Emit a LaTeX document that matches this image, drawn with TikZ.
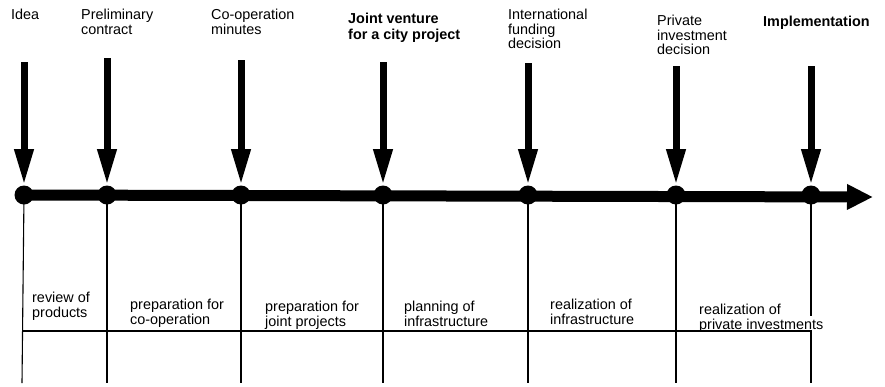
\documentclass[tikz,border=0pt]{standalone}
\usepackage{fontspec}
\setmainfont{Liberation Sans}
\usetikzlibrary{arrows.meta}
\tikzset{
  dot/.style={circle, fill=black, inner sep=0pt, minimum size=19pt},
  drop/.style={line width=7pt, -{Triangle[width=18pt,length=36pt]}, shorten >=10pt},
  axisline/.style={line width=11pt, -{Triangle[width=24pt,length=26pt]}},
  thinline/.style={line width=1.1pt},
  lbl/.style={anchor=north west, inner sep=0pt, align=left, font=\fontsize{14.4}{14.5}\selectfont},
  blbl/.style={lbl, font=\fontsize{14.4}{15.5}\selectfont\bfseries},
}
\begin{document}
\begin{tikzpicture}[x=1pt,y=-1pt]
\useasboundingbox (0,0) rectangle (885,386);
% dots
\node[dot] (d1) at (24,195) {};
\node[dot] (d2) at (107,195) {};
\node[dot] (d3) at (241,195) {};
\node[dot] (d4) at (383,195) {};
\node[dot] (d5) at (528,195) {};
\node[dot] (d6) at (676,195) {};
\node[dot] (d7) at (811,195) {};
\coordinate (aend) at (873,197);
\draw[axisline] (d1.center) -- (aend);
% top labels
\node[lbl] (t1) at (11,9) {Idea};
\node[lbl] (t2) at (81,9) {Preliminary\\contract};
\node[lbl] (t3) at (211,9) {Co-operation\\minutes};
\node[blbl] (t4) at (348,13) {Joint venture\\for a city project};
\node[lbl] (t5) at (508,9) {International\\funding\\decision};
\node[lbl] (t6) at (657,15) {Private\\investment\\decision};
\node[blbl] (t7) at (763,16) {Implementation};
% drop arrows
\foreach \i/\y in {1/62,2/58,3/60,4/62,5/63,6/66,7/66}{
  \path (d\i) ++(0,-195) ++(0,\y) coordinate (a\i);
}
\foreach \i in {1,...,7}{ \draw[drop] (a\i) -- (d\i.center); }
% bottom structure
\coordinate (e1) at (22,383);
\coordinate (e2) at (107,383);
\coordinate (e3) at (241,383);
\coordinate (e4) at (383,383);
\coordinate (e5) at (528,383);
\coordinate (e6) at (676,383);
\coordinate (e7) at (811,316);
\coordinate (h1) at (22,331);
\coordinate (h7) at (811,331);
\coordinate (f7) at (811,383);
\draw[thinline] (d1.center) -- (e1);
\foreach \i in {2,...,7}{ \draw[thinline] (d\i.center) -- (e\i); }
\draw[thinline] (h1) -- (h7) -- (f7);
% bottom labels
\node[lbl] (b1) at (32,292) {review of\\products};
\node[lbl] (b2) at (130,299) {preparation for\\co-operation};
\node[lbl] (b3) at (265,301) {preparation for\\joint projects};
\node[lbl] (b4) at (404,301) {planning of\\infrastructure};
\node[lbl] (b5) at (550,299) {realization of\\infrastructure};
\node[lbl] (b6) at (699,304) {realization of\\private investments};
\end{tikzpicture}
\end{document}
